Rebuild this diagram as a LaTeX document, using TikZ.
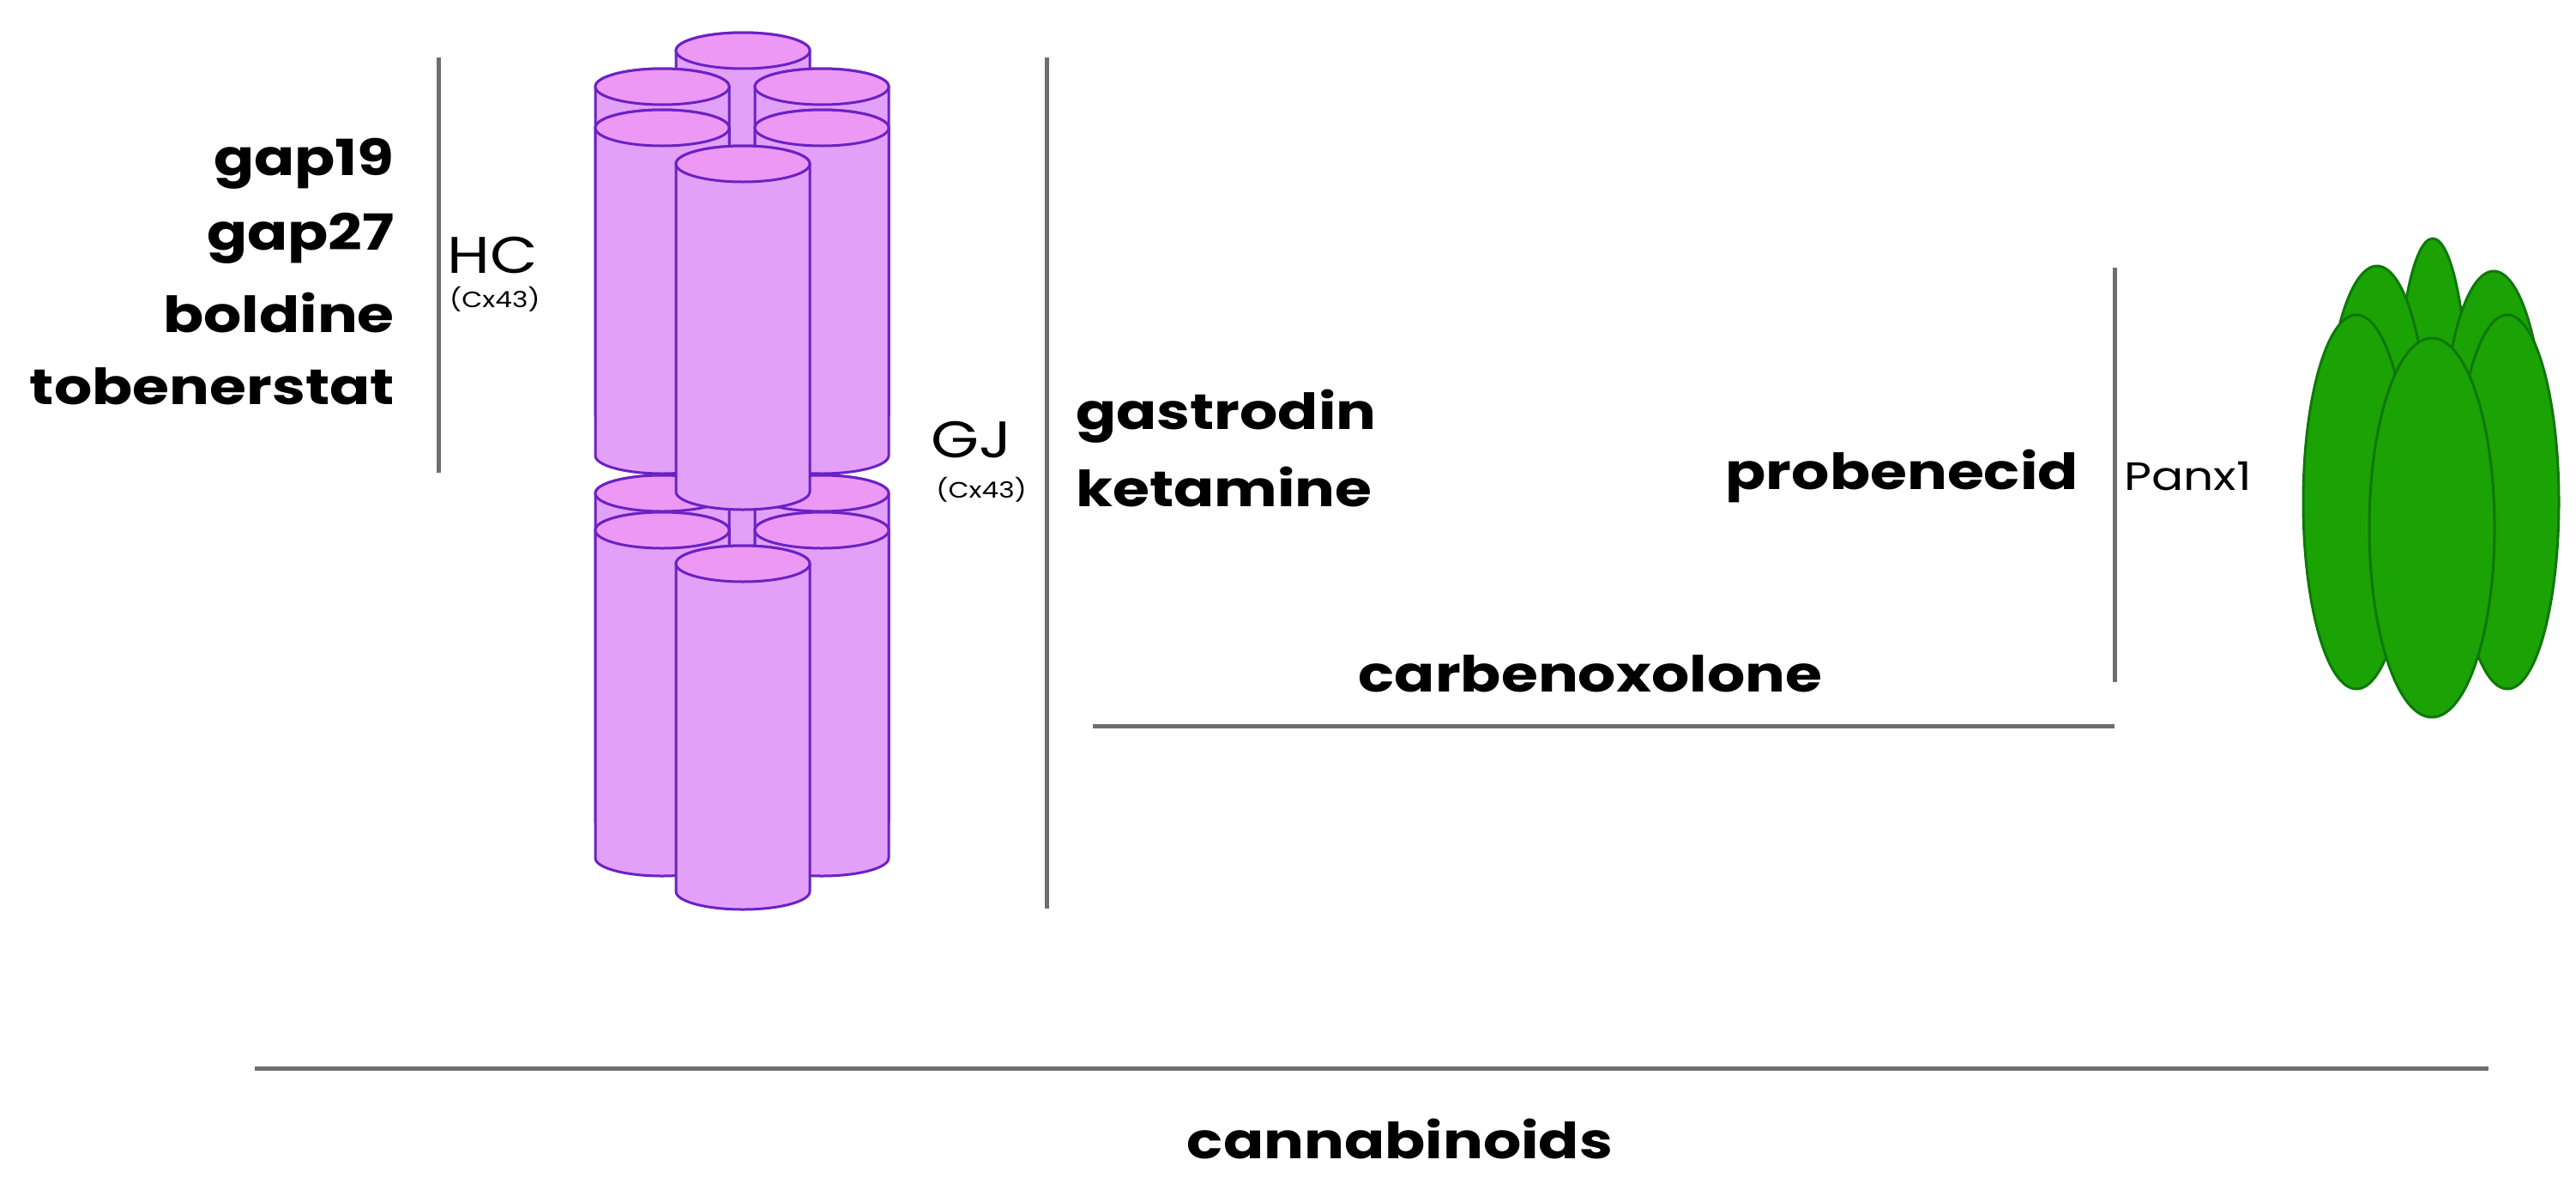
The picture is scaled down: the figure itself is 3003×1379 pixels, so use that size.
\documentclass[tikz,border=0pt]{standalone}
\usepackage{fontspec}
\setmainfont{Poppins}[FakeStretch=1.2]
\definecolor{cylfill}{HTML}{E3A0F8}
\definecolor{cyltop}{HTML}{EE98F6}
\definecolor{cylline}{HTML}{6A22C4}
\definecolor{grfill}{HTML}{1BA205}
\definecolor{grline}{HTML}{0E780A}
\definecolor{bar}{HTML}{6E6E6E}
\tikzset{
  barline/.style={draw=bar,line width=5pt},
  big/.style={font=\fontsize{58}{64}\selectfont\bfseries,inner sep=0pt},
  lab/.style={font=\fontsize{60}{66}\selectfont,inner sep=0pt},
  labp/.style={font=\fontsize{46}{52}\selectfont,inner sep=0pt},
  small/.style={font=\fontsize{26}{30}\selectfont,inner sep=0pt},
  cyl/.style={fill=cylfill,draw=cylline,line width=3pt},
  cyltopst/.style={fill=cyltop,draw=cylline,line width=3pt},
  pep/.style={fill=grfill,draw=grline,line width=3pt}
}
\newcommand\mycyl[2]{%
  \path[cyl] ({#1-78},{#2}) -- ({#1-78},{#2+382}) arc[start angle=180,end angle=0,x radius=78,y radius=21] -- ({#1+78},{#2}) arc[start angle=0,end angle=-180,x radius=78,y radius=21] -- cycle;
  \path[cyltopst] (#1,#2) ellipse[x radius=78,y radius=21];}
\begin{document}
\begin{tikzpicture}[x=1pt,y=-1pt]
\useasboundingbox (0,0) rectangle (3003,1379);
% lower layer
\mycyl{866}{533}
\mycyl{772}{575}\mycyl{958}{575}
\mycyl{772}{618}\mycyl{958}{618}
\mycyl{866}{657}
% upper layer
\mycyl{866}{59}
\mycyl{772}{101}\mycyl{958}{101}
\mycyl{772}{149}\mycyl{958}{149}
\mycyl{866}{191}
% Panx1
\path[pep] (2836,498) ellipse[x radius=42,y radius=220];
\path[pep] (2771,528) ellipse[x radius=60,y radius=218];
\path[pep] (2907,534) ellipse[x radius=60,y radius=218];
\path[pep] (2747,585) ellipse[x radius=62,y radius=218];
\path[pep] (2923,585) ellipse[x radius=60,y radius=218];
\path[pep] (2835,615) ellipse[x radius=73,y radius=221];
% lines
\coordinate (hc1) at (511,67); \coordinate (hc2) at (511,551);
\coordinate (gj1) at (1220,67); \coordinate (gj2) at (1220,1059);
\coordinate (px1) at (2465,312); \coordinate (px2) at (2465,795);
\coordinate (cb1) at (1274,846); \coordinate (cb2) at (2465,846);
\coordinate (cn1) at (297,1245); \coordinate (cn2) at (2901,1245);
\draw[barline] (hc1) -- (hc2);
\draw[barline] (gj1) -- (gj2);
\draw[barline] (px1) -- (px2);
\draw[barline] (cb1) -- (cb2);
\draw[barline] (cn1) -- (cn2);
% texts
\node[big,anchor=east] (g19) at (460,191) {gap19};
\node[big,anchor=east] (g27) at (460,278) {gap27};
\node[big,anchor=east] (bol) at (460,364) {boldine};
\node[big,anchor=east] (tob) at (460,450) {tobenerstat};
\node[lab,anchor=west] (hc) at (521,297) {HC};
\node[small,anchor=west] (hcs) at (524,349) {(Cx43)};
\node[lab,anchor=east] (gj) at (1180,513) {GJ};
\node[small,anchor=east] (gjs) at (1197,571) {(Cx43)};
\node[big,anchor=west] (gas) at (1254,485) {gastrodin};
\node[big,anchor=west] (ket) at (1254,567) {ketamine};
\node[big,anchor=east] (pro) at (2423,555) {probenecid};
\node[labp,anchor=west] (pan) at (2476,555) {Panx1};
\node[big] (car) at (1854,785) {carbenoxolone};
\node[big] (can) at (1632,1327) {cannabinoids};
\end{tikzpicture}
\end{document}
